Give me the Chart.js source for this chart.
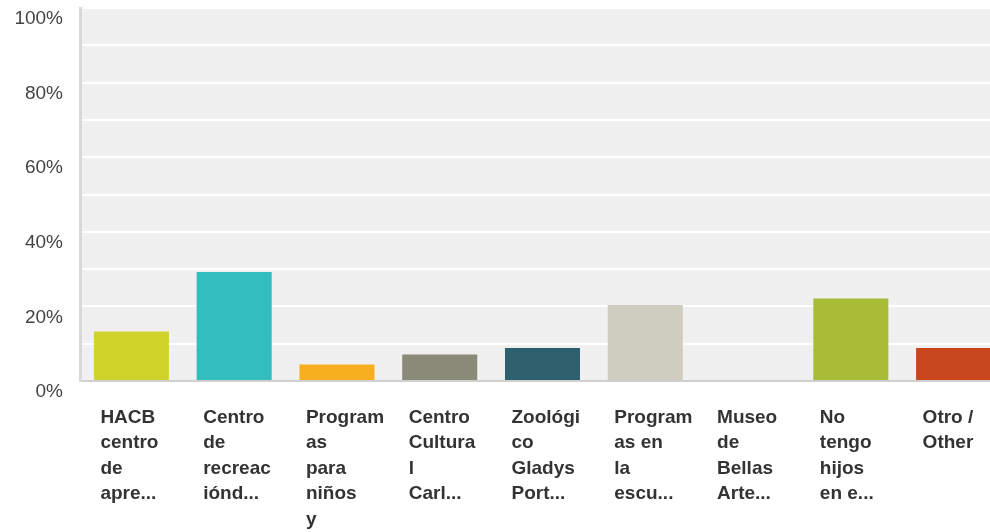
<!DOCTYPE html>
<html>
<head>
<meta charset="utf-8">
<script src="https://cdn.jsdelivr.net/npm/chart.js@4"></script>
<style>
  html, body { margin: 0; padding: 0; background: #fff; overflow: hidden; }
  #wrap { width: 990px; height: 532px; overflow: hidden; }
  #c { display: block; }
</style>
</head>
<body>
<div id="wrap"><canvas id="c" width="1005" height="532"></canvas></div>
<script>
const categories = [
  ["HACB", "centro", "de", "apre..."],
  ["Centro", "de", "recreac", "iónd..."],
  ["Program", "as", "para", "niños", "y"],
  ["Centro", "Cultura", "l", "Carl..."],
  ["Zoológi", "co", "Gladys", "Port..."],
  ["Program", "as en", "la", "escu..."],
  ["Museo", "de", "Bellas", "Arte..."],
  ["No", "tengo", "hijos", "en e..."],
  ["Otro /", "Other"]
];
const percentages = [13.27, 29.20, 4.42, 7.08, 8.85, 20.35, 0, 22.12, 8.85];
const barColors = ["#d0d42a", "#33bdbf", "#f7ae1f", "#8a8a78", "#2e5f6c", "#cfcdc0", "#7fb2c9", "#a8bc38", "#c7461e"];
const yLabelValues = [0, 20, 40, 60, 80, 100];

const plotBg = {
  id: 'plotBg',
  beforeDraw(chart) {
    const a = chart.chartArea, ctx = chart.ctx;
    ctx.save();
    ctx.fillStyle = '#f0f0f0';
    ctx.fillRect(a.left, a.top, a.right - a.left, a.bottom - a.top);
    ctx.restore();
  }
};

new Chart(document.getElementById('c'), {
  type: 'bar',
  data: {
    labels: categories,
    datasets: [{
      data: percentages,
      backgroundColor: barColors,
      borderWidth: 0,
      barPercentage: 0.73,
      categoryPercentage: 1
    }]
  },
  options: {
    responsive: false,
    animation: false,
    layout: { padding: { top: 8, right: 0, bottom: 0, left: 0 } },
    plugins: { legend: { display: false }, tooltip: { enabled: false } },
    scales: {
      x: {
        grid: { display: false, drawTicks: false },
        border: { display: true, color: '#d0d0d0', width: 2 },
        ticks: {
          autoSkip: false,
          maxRotation: 0,
          minRotation: 0,
          align: 'start',
          labelOffset: -31,
          padding: 24,
          color: '#333333',
          font: { family: '"Liberation Sans", Arial, sans-serif', size: 19, weight: 'bold', lineHeight: 1.34 }
        },
        afterFit(s) { s.height = 151; s.paddingLeft = 0; s.paddingRight = 0; s.paddingTop = 0; s.paddingBottom = 0; }
      },
      y: {
        min: 0,
        max: 100,
        grid: {
          drawTicks: false,
          lineWidth: 2,
          color: (ctx) => (ctx.tick && (ctx.tick.value === 0)) ? 'rgba(0,0,0,0)' : '#ffffff'
        },
        border: { display: true, color: '#d9d9d9', width: 3 },
        ticks: {
          stepSize: 10,
          padding: 17,
          labelOffset: 11,
          color: '#444444',
          font: { family: '"Liberation Sans", Arial, sans-serif', size: 19 },
          callback: (v) => yLabelValues.includes(v) ? v + '%' : ''
        },
        afterFit(s) { s.width = 80; s.paddingLeft = 0; s.paddingRight = 0; s.paddingTop = 0; s.paddingBottom = 0; }
      }
    }
  },
  plugins: [plotBg]
});
</script>
</body>
</html>
